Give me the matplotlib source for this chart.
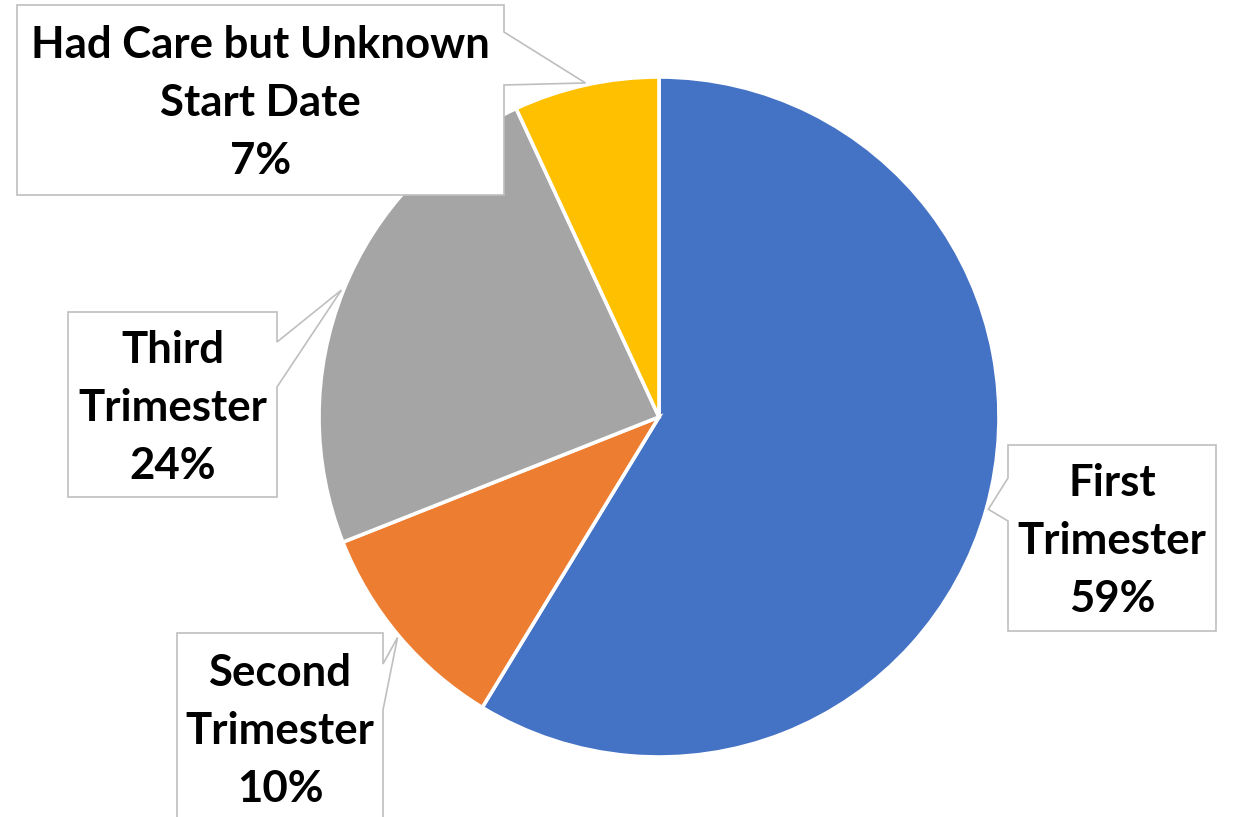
import numpy as np
import matplotlib
matplotlib.use("Agg")
import matplotlib.pyplot as plt
from matplotlib.patches import Polygon

# data (shares; labels show them rounded)
categories = ["First\nTrimester", "Second\nTrimester", "Third\nTrimester",
              "Had Care but Unknown\nStart Date"]
values = [58.7, 10.3, 24.1, 6.9]
colors = ["#4472C4", "#ED7D31", "#A5A5A5", "#FFC000"]

W, H = 1233, 817
CX, CY, R = 659, 417, 340          # pie centre / radius in pixels (y from top)

# callout boxes: (x0, y0, x1, y1, side, base_top, base_bottom), pixels from top
boxes = [
    (1008, 445, 1216, 631, "left", 478, 521),
    (177, 633, 383, 822, "right", 664, 710),
    (68, 312, 277, 497, "right", 342, 387),
    (17, 5, 504, 195, "right", 32, 85),
]

plt.rcParams["font.family"] = ["Lato", "DejaVu Sans"]

fig = plt.figure(figsize=(W / 100, H / 100), dpi=100)
ax = fig.add_axes([0, 0, 1, 1])

wedges, _ = ax.pie(values, colors=colors, startangle=90, counterclock=False,
                   center=(CX, H - CY), radius=R,
                   wedgeprops=dict(edgecolor="white", linewidth=2.6))
ax.set_xlim(0, W)
ax.set_ylim(0, H)
ax.axis("off")

LINE = 58
for w, cat, v, (x0, y0, x1, y1, side, b1, b2) in zip(wedges, categories, values, boxes):
    # pointer tip sits on the rim at the wedge's middle angle
    mid = np.deg2rad((w.theta1 + w.theta2) / 2)
    tx = CX + R * 1.006 * np.cos(mid)
    ty = CY - R * 1.006 * np.sin(mid)
    if side == "right":
        pts = [(x0, y0), (x1, y0), (x1, b1), (tx, ty), (x1, b2), (x1, y1), (x0, y1)]
    else:
        pts = [(x0, y0), (x1, y0), (x1, y1), (x0, y1), (x0, b2), (tx, ty), (x0, b1)]
    pts = [(px, H - py) for px, py in pts]
    ax.add_patch(Polygon(pts, closed=True, facecolor="white", edgecolor="#BFBFBF",
                         linewidth=1.2, zorder=3))

    lines = cat.split("\n") + [f"{v:.0f}%"]
    xc = (x0 + x1) / 2
    yc = (y0 + min(y1, y0 + 190)) / 2 + 3
    n = len(lines)
    for i, s in enumerate(lines):
        yy = yc + (i - (n - 1) / 2) * LINE
        ax.text(xc, H - yy, s, ha="center", va="center", fontsize=31.5,
                fontweight="bold", color="black", zorder=4)

fig.savefig("out.png", dpi=100)
